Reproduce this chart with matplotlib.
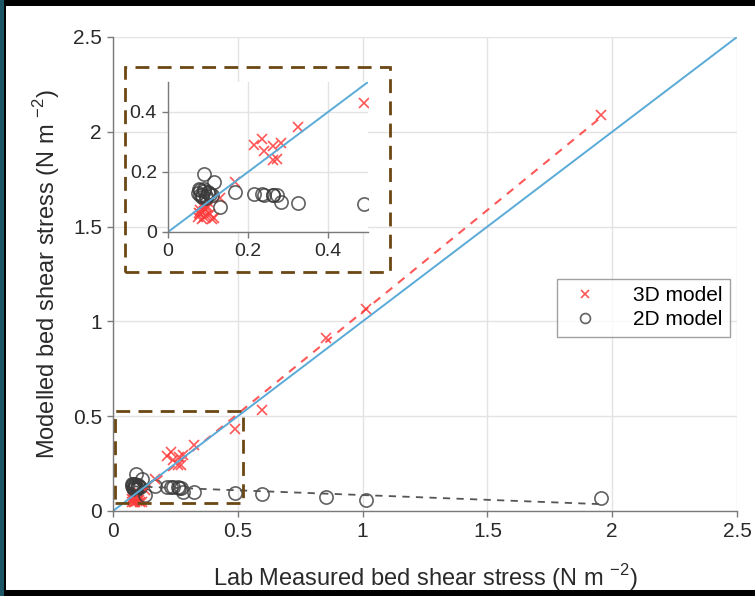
import numpy as np
import matplotlib.pyplot as plt
from matplotlib.patches import Rectangle

plt.rcParams['font.family'] = ['Liberation Sans', 'DejaVu Sans']

# lab measured vs modelled bed shear stress (N m-2)
lab_measured = np.array([1.955, 1.015, 0.855, 0.597, 0.49, 0.326, 0.282, 0.272, 0.263, 0.262,
                         0.24, 0.234, 0.216, 0.167, 0.13, 0.115, 0.091,
                         0.075, 0.080, 0.085, 0.090, 0.095, 0.100, 0.085, 0.105, 0.090,
                         0.080, 0.100, 0.110, 0.078, 0.095])
model_3d = np.array([2.09, 1.065, 0.91, 0.535, 0.43, 0.35, 0.296, 0.242, 0.287, 0.24,
                     0.271, 0.31, 0.29, 0.168, 0.112, 0.048, 0.08,
                     0.050, 0.060, 0.045, 0.070, 0.055, 0.085, 0.090, 0.060, 0.050,
                     0.075, 0.100, 0.045, 0.065, 0.085])
model_2d = np.array([0.066, 0.060, 0.072, 0.092, 0.093, 0.098, 0.099, 0.123, 0.123, 0.124,
                     0.125, 0.127, 0.126, 0.132, 0.084, 0.168, 0.193,
                     0.130, 0.140, 0.125, 0.145, 0.120, 0.135, 0.118, 0.128, 0.138,
                     0.122, 0.130, 0.125, 0.145, 0.115])

main_ticks = [0, 0.5, 1, 1.5, 2, 2.5]
main_ticklabels = ['0', '0.5', '1', '1.5', '2', '2.5']
inset_ticks = [0, 0.2, 0.4]
inset_ticklabels = ['0', '0.2', '0.4']

RED = '#ff3b3b'
CIRC = '#3a3a3a'
BLUE = '#5aaad8'
BROWN = '#6b4714'
AXC = '#7a7a7a'

fit3 = np.polyfit(lab_measured, model_3d, 1)
fit2 = np.polyfit(lab_measured, model_2d, 1)
xfit = np.array([lab_measured.min(), lab_measured.max()])

fig = plt.figure(figsize=(7.55, 5.96), dpi=100)
fig.patch.set_facecolor('white')
# frame around the screenshot
fig.patches.append(Rectangle((0, 0), 1, 1, transform=fig.transFigure, facecolor='black',
                             edgecolor='none', zorder=-10))
fig.patches.append(Rectangle((6 / 755, 6 / 596), 1 - 6 / 755, 1 - 12 / 596, transform=fig.transFigure,
                             facecolor='white', edgecolor='none', zorder=-9))
fig.patches.append(Rectangle((0, 0), 4 / 755, 1, transform=fig.transFigure, facecolor='#1b5566',
                             edgecolor='none', zorder=-8))


def style_axes(ax, ticks, labels, size):
    for s in ['top', 'right']:
        ax.spines[s].set_visible(False)
    for s in ['left', 'bottom']:
        ax.spines[s].set_color(AXC)
        ax.spines[s].set_linewidth(1.0)
    ax.set_xticks(ticks)
    ax.set_xticklabels(labels)
    ax.set_yticks(ticks)
    ax.set_yticklabels(labels)
    ax.tick_params(direction='out', length=4, width=1, color=AXC, labelcolor='#2a2a2a',
                   labelsize=size, pad=4)
    ax.grid(True, color='#e3e3e3', linewidth=1)
    ax.set_axisbelow(True)


ax = fig.add_axes([113 / 755, 1 - 511 / 596, 624 / 755, 474 / 596])
ax.set_facecolor('none')
ax.plot(lab_measured, model_3d, 'x', color=RED, ms=7, mew=1.2, alpha=0.85, label='3D model')
ax.plot(lab_measured, model_2d, 'o', mfc='none', mec=CIRC, ms=9.5, mew=1.2, alpha=0.8, label='2D model')
ax.plot(xfit, np.polyval(fit3, xfit), '--', color=RED, lw=1.5, dashes=(4, 3.5), alpha=0.85)
ax.plot(xfit, np.polyval(fit2, xfit), '--', color='#555555', lw=1.3, dashes=(4, 3.5))
ax.plot([0, 2.5], [0, 2.5], '-', color=BLUE, lw=1.4)
ax.set_xlim(0, 2.5)
ax.set_ylim(0, 2.5)
style_axes(ax, main_ticks, main_ticklabels, 15)
ax.set_xlabel('Lab Measured bed shear stress (N m $^{\\mathregular{-2}}$)', fontsize=17,
              color='#2a2a2a', labelpad=15)
ax.set_ylabel('Modelled bed shear stress (N m $^{\\mathregular{-2}}$)', fontsize=17,
              color='#2a2a2a', labelpad=8)
ax.add_patch(Rectangle((0.01, 0.04), 0.51, 0.49, fill=False, edgecolor=BROWN, lw=2,
                       linestyle=(0, (5, 3)), zorder=5))
leg = ax.legend(loc='upper right', bbox_to_anchor=(0.989, 0.49), fontsize=15, frameon=True,
                fancybox=False, edgecolor='#8a8a8a', handletextpad=1.3, borderpad=0.35,
                labelspacing=0.25, handlelength=2.0, borderaxespad=0, markerscale=0.75)
leg.get_frame().set_linewidth(1.0)

# dashed frame around the inset
fig.patches.append(Rectangle((125 / 755, 1 - 272 / 596), 265 / 755, 205 / 596,
                             transform=fig.transFigure, fill=False, edgecolor=BROWN, lw=2,
                             linestyle=(0, (5, 3)), zorder=3))

ins = fig.add_axes([168 / 755, 1 - 232 / 596, 200 / 755, 150 / 596])
ins.set_facecolor('white')
ins.plot(lab_measured, model_3d, 'x', color=RED, ms=7, mew=1.2, alpha=0.85)
ins.plot(lab_measured, model_2d, 'o', mfc='none', mec=CIRC, ms=9.5, mew=1.2, alpha=0.8)
ins.plot([0, 0.5], [0, 0.5], '-', color=BLUE, lw=1.4)
ins.set_xlim(0, 0.5)
ins.set_ylim(0, 0.5)
style_axes(ins, inset_ticks, inset_ticklabels, 14)

fig.savefig('out.png', dpi=100)
